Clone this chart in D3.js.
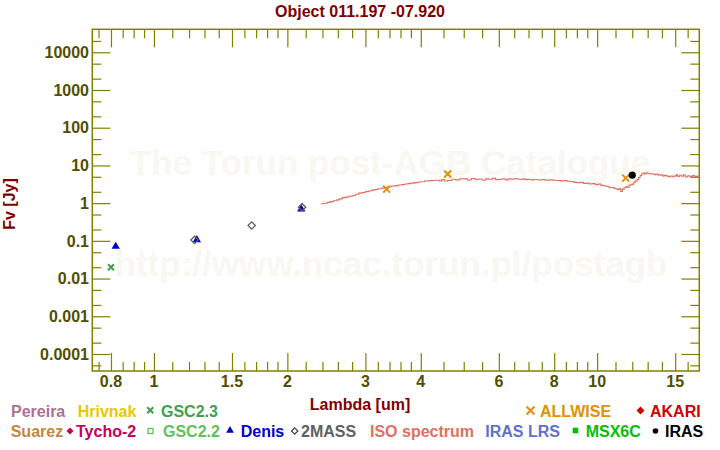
<!DOCTYPE html>
<html><head><meta charset="utf-8">
<script src="https://cdn.jsdelivr.net/npm/d3@7"></script>
<style>
html,body{margin:0;padding:0;background:#fff;}
svg{display:block;font-family:"Liberation Sans",Arial,sans-serif;font-weight:bold;}
</style></head>
<body>
<svg id="chart" width="720" height="450"></svg>
<script>
// ---------- data ----------
const title = "Object 011.197 -07.920";
const xTickMajor = [0.8, 1, 1.5, 2, 3, 4, 6, 8, 10, 15];
const xTickMinor = [0.75, 0.85, 0.9, 0.95, 1.1, 1.2, 1.3, 1.4, 1.6, 1.7, 1.8, 1.9,
  2.2, 2.4, 2.6, 2.8, 3.2, 3.4, 3.6, 3.8, 4.5, 5, 5.5, 6.5, 7, 7.5, 8.5, 9, 9.5,
  11, 12, 13, 14, 16];
const yTickMajor = [0.0001, 0.001, 0.01, 0.1, 1, 10, 100, 1000, 10000];
const yTickLabels = ["0.0001", "0.001", "0.01", "0.1", "1", "10", "100", "1000", "10000"];
const yTickMinor = [5e-5, 2e-4, 5e-4, 2e-3, 5e-3, 0.02, 0.05, 0.2, 0.5, 2, 5, 20, 50,
  200, 500, 2000, 5000, 20000];

const denisLambda = [0.82, 1.25, 2.15];
const denisFlux = [0.071, 0.106, 0.70];
const twomassLambda = [1.235, 1.662, 2.159];
const twomassFlux = [0.106, 0.255, 0.78];
const gsc23Lambda = [0.80];
const gsc23Flux = [0.020];
const allwiseLambda = [3.35, 4.6, 11.6];
const allwiseFlux = [2.35, 5.9, 4.6];
const irasLambda = [12.0];
const irasFlux = [5.5];

const isoLambda = [2.38, 2.42, 2.46, 2.50, 2.54, 2.58, 2.62, 2.66, 2.70, 2.75, 2.80, 2.85,
  2.90, 2.95, 3.00, 3.05, 3.10, 3.15, 3.20, 3.26, 3.32, 3.38, 3.44, 3.50, 3.56, 3.62,
  3.68, 3.74, 3.80, 3.87, 3.94, 4.00, 4.08, 4.16, 4.24, 4.32, 4.40, 4.46, 4.52, 4.60,
  4.70, 4.80, 4.90, 5.00, 5.10, 5.20, 5.30, 5.40, 5.50, 5.60, 5.70, 5.80, 5.90, 6.00,
  6.10, 6.20, 6.30, 6.40, 6.50, 6.60, 6.70, 6.80, 6.90, 7.00, 7.10, 7.20, 7.35, 7.50,
  7.65, 7.80, 7.95, 8.10, 8.25, 8.40, 8.55, 8.70, 8.85, 9.00, 9.15, 9.30, 9.45, 9.60,
  9.75, 9.90, 10.05, 10.20, 10.35, 10.50, 10.65, 10.80, 10.95, 11.10, 11.20, 11.30,
  11.40, 11.50, 11.60, 11.70, 11.80, 11.90, 12.00, 12.10, 12.20, 12.30, 12.40, 12.50,
  12.60, 12.70, 12.80, 12.90, 13.00, 13.15, 13.30, 13.45, 13.60, 13.75, 13.90, 14.05,
  14.20, 14.35, 14.50, 14.65, 14.80, 14.95, 15.10, 15.20, 15.35, 15.50, 15.65, 15.80,
  16.00, 16.20, 16.40, 16.60, 16.80, 17.00];
const isoFlux = [0.96, 0.99, 1.05, 1.10, 1.16, 1.22, 1.30, 1.40, 1.44, 1.52, 1.60, 1.72,
  1.84, 1.92, 2.02, 2.10, 2.22, 2.30, 2.40, 2.50, 2.62, 2.72, 2.84, 2.92, 3.02, 3.10,
  3.22, 3.30, 3.40, 3.50, 3.62, 3.70, 3.85, 3.95, 3.98, 4.05, 3.90, 4.20, 3.85, 4.00,
  4.30, 4.15, 4.45, 4.40, 4.10, 4.50, 4.25, 4.35, 4.05, 4.40, 4.30, 4.55, 4.20, 4.25,
  4.45, 4.15, 4.40, 4.30, 4.50, 4.35, 4.25, 4.40, 4.20, 4.30, 4.15, 4.25, 4.10, 4.20,
  4.05, 4.15, 4.05, 4.00, 3.90, 3.95, 3.80, 3.75, 3.55, 3.50, 3.55, 3.35, 3.40, 3.25,
  3.30, 3.10, 3.20, 2.95, 2.85, 2.75, 2.55, 2.60, 2.40, 2.30, 2.45, 2.05,
  2.35, 2.55, 2.75, 2.60, 3.00, 3.05, 3.20, 3.60, 3.90, 4.20, 4.80, 5.40,
  5.90, 6.30, 5.95, 6.40, 6.20, 5.90, 6.00, 5.70, 5.80, 5.50, 5.60, 5.30,
  5.45, 5.20, 5.05, 5.25, 5.00, 5.30, 5.75, 5.10, 5.50, 5.20, 5.60, 4.95,
  5.30, 5.10, 5.40, 5.05, 5.20, 5.00];

const legendRow1 = ["Pereira", "Hrivnak", "GSC2.3", "ALLWISE", "AKARI"];
const legendRow2 = ["Suarez", "Tycho-2", "GSC2.2", "Denis", "2MASS", "ISO spectrum", "IRAS LRS", "MSX6C", "IRAS"];
const watermark1 = "The Torun post-AGB Catalogue";
const watermark2 = "http://www.ncac.torun.pl/postagb";

// ---------- layout / style ----------
const L = 92.3, R = 699.3, T = 29.3, B = 371;
const axisColor = "#808000", tickLabelColor = "#4f4f00", titleColor = "#800000";
const svg = d3.select("#chart");

const x = d3.scaleLog().domain([0.726, 17.0]).range([L, R]);
const y = d3.scaleLog().domain([3.54e-5, 4.07e4]).range([B, T]);

// watermark
svg.append("text").attr("x", 390).attr("y", 175).attr("text-anchor", "middle")
  .attr("font-size", 35).attr("fill", "#f9f7f1").text(watermark1);
svg.append("text").attr("x", 391).attr("y", 276).attr("text-anchor", "middle")
  .attr("font-size", 35).attr("fill", "#f9f7f1").text(watermark2);

// title
svg.append("text").attr("x", 360).attr("y", 17).attr("text-anchor", "middle")
  .attr("font-size", 16).attr("fill", titleColor).text(title);

// axes with d3 axis generators, ticks pointing inward
function addAxis(gen, transform, vals, size, fmt) {
  const g = svg.append("g").attr("transform", transform)
    .call(gen.tickValues(vals).tickSize(size).tickSizeOuter(0).tickFormat(fmt));
  g.select(".domain").remove();
  g.selectAll("line").attr("stroke", axisColor).attr("stroke-width", 1.2);
  return g;
}
const none = () => "";
addAxis(d3.axisTop(x), `translate(0,${B})`, xTickMajor, 18, none);
addAxis(d3.axisTop(x), `translate(0,${B})`, xTickMinor, 9, none);
addAxis(d3.axisBottom(x), `translate(0,${T})`, xTickMajor, 18, none);
addAxis(d3.axisBottom(x), `translate(0,${T})`, xTickMinor, 9, none);
addAxis(d3.axisRight(y), `translate(${L},0)`, yTickMajor, 18, none);
addAxis(d3.axisRight(y), `translate(${L},0)`, yTickMinor, 9, none);
addAxis(d3.axisLeft(y), `translate(${R},0)`, yTickMajor, 18, none);
addAxis(d3.axisLeft(y), `translate(${R},0)`, yTickMinor, 9, none);

// x labels
svg.append("g").selectAll("text").data(xTickMajor).join("text")
  .attr("x", d => x(d)).attr("y", 387).attr("text-anchor", "middle")
  .attr("font-size", 16).attr("fill", tickLabelColor).text(d => String(d));
// y labels
svg.append("g").selectAll("text").data(yTickMajor).join("text")
  .attr("x", 89).attr("y", d => y(d)).attr("dy", "0.36em").attr("text-anchor", "end")
  .attr("font-size", 16).attr("fill", tickLabelColor).text((d, i) => yTickLabels[i]);

// frame
svg.append("rect").attr("x", L).attr("y", T).attr("width", R - L).attr("height", B - T)
  .attr("fill", "none").attr("stroke", axisColor).attr("stroke-width", 1.5);

// axis titles
svg.append("text").attr("x", 360).attr("y", 410).attr("text-anchor", "middle")
  .attr("font-size", 16).attr("fill", titleColor).text("Lambda [um]");
svg.append("text").attr("transform", "translate(15,204) rotate(-90)").attr("text-anchor", "middle")
  .attr("font-size", 16).attr("fill", titleColor).text("Fv [Jy]");

// ISO spectrum
const iso = isoLambda.map((l, i) => [l, isoFlux[i]]);
svg.append("path").datum(iso)
  .attr("d", d3.line().x(d => x(d[0])).y(d => y(d[1])).curve(d3.curveStepAfter))
  .attr("fill", "none").attr("stroke", "#e07060").attr("stroke-width", 1.1);

// markers
function cross(g, cx, cy, s, color, w) {
  g.append("path").attr("d", `M${cx - s},${cy - s}L${cx + s},${cy + s}M${cx - s},${cy + s}L${cx + s},${cy - s}`)
    .attr("stroke", color).attr("stroke-width", w).attr("fill", "none");
}
const pts = svg.append("g");
gsc23Lambda.forEach((l, i) => cross(pts, x(l), y(gsc23Flux[i]), 3, "#40a050", 2));
allwiseLambda.forEach((l, i) => cross(pts, x(l), y(allwiseFlux[i]), 3.5, "#e09000", 2));
pts.selectAll(".denis").data(denisLambda).join("path").attr("class", "denis")
  .attr("transform", (d, i) => `translate(${x(d)},${y(denisFlux[i])})`)
  .attr("d", d3.symbol(d3.symbolTriangle, 30)).attr("fill", "#0000c8");
pts.selectAll(".tm").data(twomassLambda).join("path").attr("class", "tm")
  .attr("transform", (d, i) => `translate(${x(d)},${y(twomassFlux[i])}) rotate(45)`)
  .attr("d", "M-2.6,-2.6H2.6V2.6H-2.6Z").attr("fill", "none").attr("stroke", "#606060").attr("stroke-width", 1.3);
pts.selectAll(".iras").data(irasLambda).join("circle").attr("class", "iras")
  .attr("cx", d => x(d)).attr("cy", (d, i) => y(irasFlux[i])).attr("r", 3.6).attr("fill", "#000");

// legend
const leg = svg.append("g").attr("font-size", 16);
const row1X = [11, 77.7, 161, 540, 650];
const row1C = ["#b07090", "#e8c800", "#40a050", "#e09000", "#d00000"];
const row2X = [10.7, 76, 163, 240.7, 301, 370, 485.3, 585.7, 665];
const row2C = ["#c08840", "#c8005a", "#60c060", "#0000cc", "#606060", "#e07060", "#6070d0", "#00c000", "#000000"];
legendRow1.forEach((t, i) => leg.append("text").attr("x", row1X[i]).attr("y", 416.7).attr("fill", row1C[i]).text(t));
legendRow2.forEach((t, i) => leg.append("text").attr("x", row2X[i]).attr("y", 436.7).attr("fill", row2C[i]).text(t));
cross(leg, 150.3, 410.3, 3, "#40a050", 2);
cross(leg, 530.5, 410.5, 4, "#e09000", 2);
leg.append("path").attr("d", "M0,-4L4,0L0,4L-4,0Z").attr("transform", "translate(640.5,410.5)").attr("fill", "#d00000");
leg.append("path").attr("d", "M0,-3.5L3.5,0L0,3.5L-3.5,0Z").attr("transform", "translate(70,431)").attr("fill", "#c8005a");
leg.append("rect").attr("x", 148).attr("y", 428.5).attr("width", 5).attr("height", 5).attr("fill", "none").attr("stroke", "#60c060").attr("stroke-width", 1.3);
leg.append("path").attr("d", d3.symbol(d3.symbolTriangle, 26)).attr("transform", "translate(230,430.5)").attr("fill", "#0000cc");
leg.append("path").attr("d", "M0,-3.2L3.2,0L0,3.2L-3.2,0Z").attr("transform", "translate(294.7,431)").attr("fill", "none").attr("stroke", "#404040").attr("stroke-width", 1.2);
leg.append("rect").attr("x", 572.7).attr("y", 427.7).attr("width", 5.6).attr("height", 5.6).attr("fill", "#00c000");
leg.append("circle").attr("cx", 655.5).attr("cy", 431).attr("r", 2.8).attr("fill", "#000");
</script>
</body></html>
